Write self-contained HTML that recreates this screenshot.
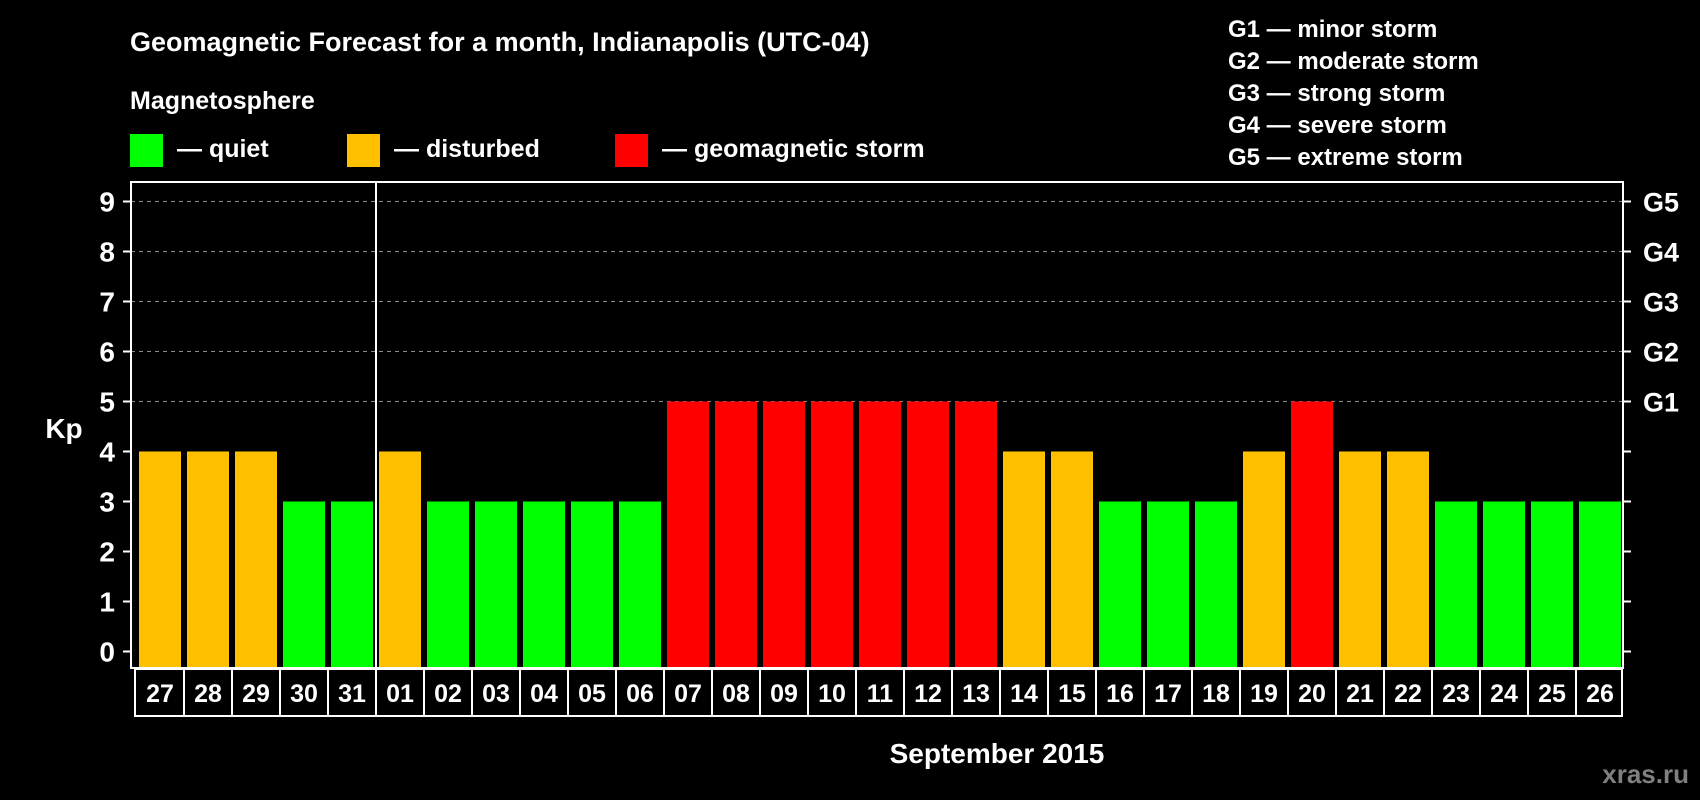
<!DOCTYPE html>
<html><head><meta charset="utf-8"><style>
html,body{margin:0;padding:0;background:#000;}
svg{display:block;font-family:"Liberation Sans",Arial,sans-serif;font-weight:bold;}
</style></head><body>
<svg id="chart" width="1700" height="800" viewBox="0 0 1700 800" xmlns="http://www.w3.org/2000/svg">
<rect width="1700" height="800" fill="#000"/>
<text x="130" y="51" fill="#fff" font-size="27">Geomagnetic Forecast for a month, Indianapolis (UTC-04)</text>
<text x="130" y="109" fill="#fff" font-size="25">Magnetosphere</text>
<g><rect x="130" y="134" width="33" height="33" fill="#00ff00"/><text x="177" y="157" fill="#fff" font-size="25">— quiet</text></g>
<g><rect x="347" y="134" width="33" height="33" fill="#ffc000"/><text x="394" y="157" fill="#fff" font-size="25">— disturbed</text></g>
<g><rect x="615" y="134" width="33" height="33" fill="#ff0000"/><text x="662" y="157" fill="#fff" font-size="25">— geomagnetic storm</text></g>
<g fill="#fff" font-size="24">
<text x="1228" y="37">G1 — minor storm</text>
<text x="1228" y="69">G2 — moderate storm</text>
<text x="1228" y="101">G3 — strong storm</text>
<text x="1228" y="133">G4 — severe storm</text>
<text x="1228" y="165">G5 — extreme storm</text>
</g>
<text x="64" y="438" fill="#fff" font-size="28" text-anchor="middle">Kp</text>
<text x="997" y="763" fill="#fff" font-size="28" text-anchor="middle">September 2015</text>
<text x="1689" y="783" fill="#808080" font-size="26" text-anchor="end">xras.ru</text>
<g id="plot"></g>
</svg>
<script>
const days = ["27","28","29","30","31","01","02","03","04","05","06","07","08","09","10","11","12","13","14","15","16","17","18","19","20","21","22","23","24","25","26"];
const kpValues = [4,4,4,3,3,4,3,3,3,3,3,5,5,5,5,5,5,5,4,4,3,3,3,4,5,4,4,3,3,3,3];
const yTicks = [0,1,2,3,4,5,6,7,8,9];
const gLabels = ["G1","G2","G3","G4","G5"];
const gLevels = [5,6,7,8,9];

const NS="http://www.w3.org/2000/svg";
const plot=document.getElementById('plot');
const L=131,R=1623,T=182,B=668;
const y0=651.5, unit=50;
const yScale=v=>y0-unit*v;
const step=48, bx0=139, bw=42;
const xScale=i=>bx0+i*step;
function mk(tag,attrs){const e=document.createElementNS(NS,tag);for(const k in attrs)e.setAttribute(k,attrs[k]);plot.appendChild(e);return e;}
function color(v){return v>=5?"#ff0000":(v>=4?"#ffc000":"#00ff00");}

gLevels.forEach(v=>{
  const g=mk('line',{x1:L,x2:R,y1:yScale(v),y2:yScale(v),stroke:"#8a8a8a","stroke-width":1,"stroke-dasharray":"4,4"});
  
  
});
kpValues.forEach((v,i)=>{
  const r=mk('rect',{x:xScale(i),y:yScale(v),width:bw,height:B-yScale(v),fill:color(v)});
  
  
});
const fr=mk('rect',{x:L,y:T,width:R-L,height:B-T,fill:"none",stroke:"#fff","stroke-width":2});


const mi=days.indexOf("01");
const dv=mk('line',{x1:xScale(mi)-3,x2:xScale(mi)-3,y1:T,y2:B,stroke:"#fff","stroke-width":2});


yTicks.forEach(v=>{
  const y=yScale(v);
  const t=mk('line',{x1:123,x2:L,y1:y,y2:y,stroke:"#fff","stroke-width":2});
  
  
  const t2=mk('line',{x1:R,x2:R+8,y1:y,y2:y,stroke:"#fff","stroke-width":2});
  
  
  const tx=mk('text',{x:115,y:y+10,fill:"#fff","font-size":28,"text-anchor":"end"});
  tx.textContent=v;
  
  
});
gLevels.forEach((v,i)=>{
  const tx=mk('text',{x:1643,y:yScale(v)+10,fill:"#fff","font-size":27});
  tx.textContent=gLabels[i];
  
  
});
const lb=mk('rect',{x:135,y:669,width:1487,height:47,fill:"none",stroke:"#fff","stroke-width":2});


days.forEach((d,i)=>{
  if(i>0){
    const s=mk('line',{x1:xScale(i)-3,x2:xScale(i)-3,y1:669,y2:716,stroke:"#fff","stroke-width":2});
    
    
  }
  const tx=mk('text',{x:xScale(i)+bw/2,y:702,fill:"#fff","font-size":25,"text-anchor":"middle"});
  tx.textContent=d;
  
  
});
</script>
</body></html>
